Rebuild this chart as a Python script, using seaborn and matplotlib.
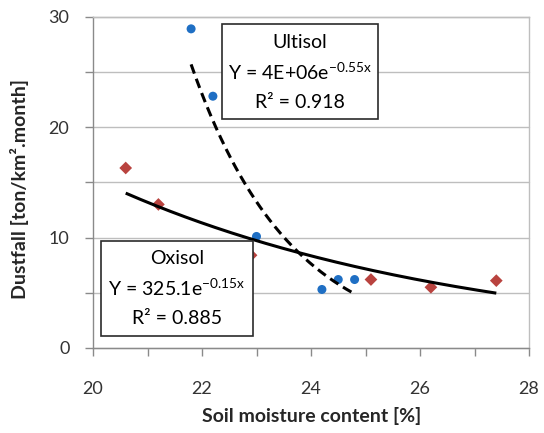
import numpy as np
import pandas as pd
import matplotlib
matplotlib.use("Agg")
import matplotlib.pyplot as plt
from matplotlib.patches import Rectangle
from matplotlib.ticker import MultipleLocator
import seaborn as sns

# ---- data ----
ultisol_x = [21.8, 22.2, 23.0, 24.2, 24.5, 24.8]
ultisol_y = [28.9, 22.8, 10.1, 5.3, 6.2, 6.2]
oxisol_x = [20.6, 21.2, 22.9, 25.1, 26.2, 27.4]
oxisol_y = [16.3, 13.0, 8.4, 6.2, 5.5, 6.1]

ultisol_label = ["Ultisol", "Y = 4E+06e$^{\\mathregular{-0.55x}}$", "R² = 0.918"]
oxisol_label = ["Oxisol", "Y = 325.1e$^{\\mathregular{-0.15x}}$", "R² = 0.885"]

x_label = "Soil moisture content [%]"
y_label = "Dustfall [ton/km².month]"

sns.set_style("white")
plt.rcParams["font.family"] = ["Lato", "DejaVu Sans"]
plt.rcParams["mathtext.fontset"] = "custom"
plt.rcParams["mathtext.rm"] = "Lato"
plt.rcParams["mathtext.it"] = "Lato:italic"
plt.rcParams["mathtext.bf"] = "Lato:bold"

BLUE = "#1F6FC4"
RED = "#B9433F"
GRID = "#BEBEBE"
AXC = "#8A8A8A"

df = pd.concat([
    pd.DataFrame({"x": ultisol_x, "y": ultisol_y, "soil": "Ultisol"}),
    pd.DataFrame({"x": oxisol_x, "y": oxisol_y, "soil": "Oxisol"}),
])

W, H = 544, 433
fig = plt.figure(figsize=(W / 100, H / 100), dpi=100)
ax_l, ax_r, ax_t, ax_b = 93, 529, 16.7, 348
ax = fig.add_axes([ax_l / W, 1 - ax_b / H, (ax_r - ax_l) / W, (ax_b - ax_t) / H])

sns.scatterplot(data=df, x="x", y="y", hue="soil", style="soil",
                markers={"Ultisol": "o", "Oxisol": "D"},
                palette={"Ultisol": BLUE, "Oxisol": RED},
                s=42, linewidth=0, legend=False, ax=ax, zorder=3)

# exponential trend lines fitted from the data
def exp_fit(xs, ys):
    xs = np.asarray(xs); ys = np.asarray(ys)
    b, lna = np.polyfit(xs, np.log(ys), 1)
    xx = np.linspace(xs.min(), xs.max(), 200)
    return xx, np.exp(lna) * np.exp(b * xx)

xx, yy = exp_fit(oxisol_x, oxisol_y)
ax.plot(xx, yy, color="black", lw=2.2, zorder=4, solid_capstyle="butt")
xx, yy = exp_fit(ultisol_x, ultisol_y)
ax.plot(xx, yy, color="black", lw=2.2, ls=(0, (3.2, 1.8)), zorder=4)

ax.set_xlim(20, 28)
ax.set_ylim(0, 30)
ax.xaxis.set_major_locator(MultipleLocator(2))
ax.xaxis.set_minor_locator(MultipleLocator(1))
ax.yaxis.set_major_locator(MultipleLocator(10))
ax.yaxis.set_minor_locator(MultipleLocator(5))
ax.grid(False)
ax.yaxis.grid(True, which="both", color=GRID, lw=1.0, clip_on=False)
ax.set_axisbelow(True)

for side in ["left", "bottom"]:
    ax.spines[side].set_color(AXC)
    ax.spines[side].set_linewidth(1.0)
ax.spines["right"].set_color(GRID)
ax.spines["right"].set_linewidth(1.0)
ax.spines["top"].set_color(GRID)
ax.spines["top"].set_linewidth(1.0)

ax.tick_params(axis="x", which="both", direction="out", length=6, width=1,
               color=AXC, pad=18, labelsize=13, labelcolor="#333333", bottom=True)
ax.tick_params(axis="y", which="both", direction="out", length=6, width=1,
               color=AXC, pad=11, labelsize=13, labelcolor="#333333", left=True)

ax.set_xlabel(x_label, fontsize=14, fontweight="bold")
ax.set_ylabel(y_label, fontsize=14, fontweight="bold")
ax.xaxis.set_label_coords((312 - ax_l) / (ax_r - ax_l), (ax_b - 407) / (ax_b - ax_t))
ax.yaxis.set_label_coords((29 - ax_l) / (ax_r - ax_l), (ax_b - 189) / (ax_b - ax_t))

# annotation boxes
def fbox(x0, y0, x1, y1):
    fig.add_artist(Rectangle((x0 / W, 1 - y1 / H), (x1 - x0) / W, (y1 - y0) / H,
                             transform=fig.transFigure, facecolor="white",
                             edgecolor="#2b2b2b", lw=1.2, zorder=5))

def ftext(cx, cy, s):
    fig.text(cx / W, 1 - cy / H, s, ha="center", va="center", fontsize=14,
             color="black", zorder=6)

fbox(222, 24, 378, 119)
for cy, s in zip([43, 72, 102], ultisol_label):
    ftext(300, cy, s)

fbox(101, 241, 253, 336)
for cy, s in zip([259, 288, 318], oxisol_label):
    ftext(177, cy, s)

fig.savefig("out.png", dpi=100, facecolor="white")
